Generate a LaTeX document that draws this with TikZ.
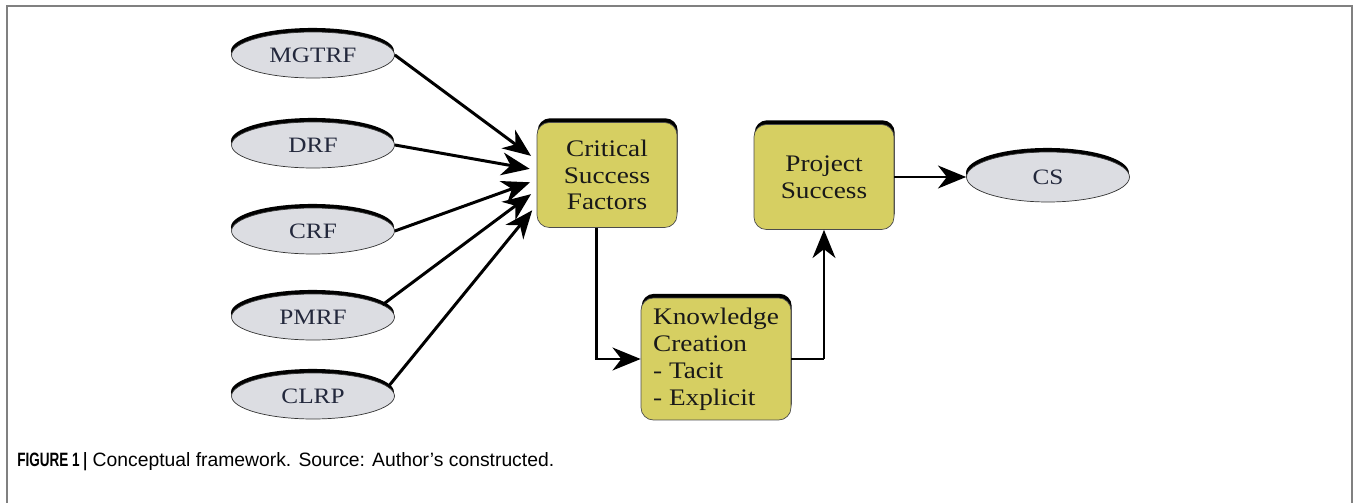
\documentclass[tikz,border=0pt]{standalone}
\usepackage{fontspec}
\setmainfont{Liberation Serif}[FakeStretch=1.15]
\newfontfamily\capfont{Liberation Sans}
\newfontfamily\capcond{Liberation Sans}[FakeStretch=0.7]
\usetikzlibrary{shapes.geometric,shadows,arrows.meta}
\definecolor{ellgray}{RGB}{220,221,226}
\definecolor{boxyellow}{RGB}{214,207,98}
\definecolor{framegray}{RGB}{128,128,128}
\definecolor{inkblue}{RGB}{35,40,60}

\begin{document}
\begin{tikzpicture}[x=0.02cm, y=-0.02cm,
    factor/.style={ellipse, draw=black!80, fill=ellgray, minimum width=3.26cm, minimum height=0.92cm, inner sep=0pt, text=inkblue, font=\fontsize{12.5}{14}\selectfont, general shadow={fill=black, shadow yshift=2.3pt, shadow xshift=-0.3pt}},
    block/.style={draw=black!70, fill=boxyellow, rounded corners=7pt, minimum width=2.8cm, minimum height=2.1cm, align=center, text=black!90, font=\fontsize{13.5}{15.3}\selectfont, general shadow={fill=black, shadow yshift=2.4pt, shadow xshift=0.4pt}},
    arr/.style={-{Stealth[length=16pt,width=13pt,inset=5pt]}, line width=1.7pt}]

    \useasboundingbox (0,0) rectangle (1357,503);
    \draw[framegray, line width=1.1pt] (7,503) -- (7,6) -- (1352,6) -- (1352,503);

    \node[factor] (mgtrf) at (313, 55)  {MGTRF};
    \node[factor] (drf)   at (313, 145) {DRF};
    \node[factor] (crf)   at (313, 231) {CRF};
    \node[factor] (pmrf)  at (313, 317) {PMRF};
    \node[factor] (clrp)  at (313, 396) {CLRP};

    \node[block] (csf) at (607, 175) {Critical\\Success\\Factors};
    \node[block] (ps)  at (824, 177) {Project\\Success};
    \node[block, align=left, minimum width=3cm, minimum height=2.44cm] (kc) at (716, 359) {Knowledge\\Creation\\- Tacit\\- Explicit};
    \node[factor, minimum height=1cm] (cs) at (1048, 177) {CS};

    \coordinate (bend) at (kc.east -| ps.south);

    \path[arr] (mgtrf.east) edge[shorten >=4pt] (csf.168);
    \path[arr] (drf.east)   edge[shorten >=4pt] (csf.176);
    \path[arr] (crf.east)   edge[shorten >=4pt] (csf.184);
    \path[arr] (pmrf.10)    edge[shorten >=4pt] (csf.192);
    \path[arr] (clrp.7)     edge[shorten >=4pt] (csf.203);
    \draw[arr] (csf.259) |- (kc.west);
    \draw[line width=0.6pt] (kc.east) -- (bend);
    \draw[arr] (bend) -- (ps.south);
    \path[arr] (ps.east) edge (cs.west);

    \node[anchor=base west, inner sep=0pt, font=\capfont\fontsize{11}{13}\selectfont] (caption) at (17, 466)
        {{\capcond\bfseries FIGURE 1 |} Conceptual framework. Source: Author’s constructed.};

\end{tikzpicture}
\end{document}
